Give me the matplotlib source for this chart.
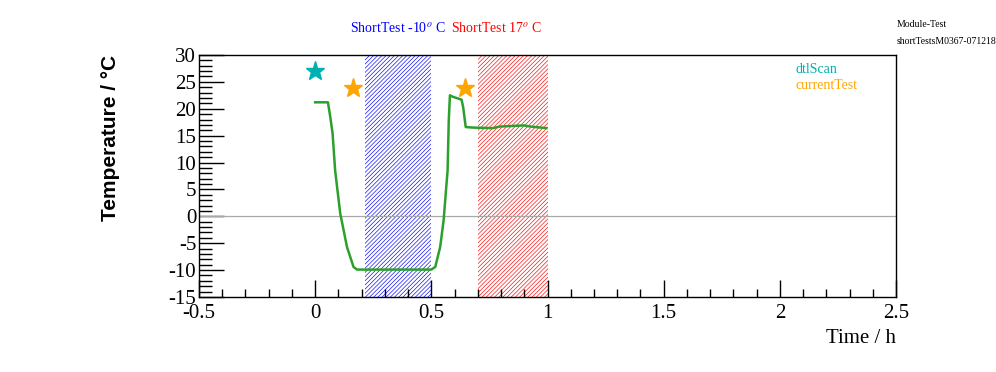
import matplotlib
matplotlib.use("Agg")
import matplotlib.pyplot as plt
from matplotlib.ticker import MultipleLocator, FuncFormatter

plt.rcParams["axes.unicode_minus"] = False
plt.rcParams["hatch.linewidth"] = 0.45

# temperature trace (time in h, temperature in deg C)
time_h = [0.0, 0.055, 0.065, 0.075, 0.086, 0.108, 0.137, 0.165, 0.18, 0.5, 0.517,
          0.538, 0.553, 0.563, 0.57, 0.575, 0.58, 0.594, 0.63, 0.637, 0.648, 0.68,
          0.765, 0.795, 0.9, 0.925, 0.995]
temp_c = [21.2, 21.2, 18.5, 15.4, 8.5, 0.5, -5.7, -9.4, -9.9, -9.9, -9.4,
          -5.7, -0.7, 4.8, 8.5, 17.8, 22.5, 22.2, 21.7, 20.3, 16.6, 16.5,
          16.4, 16.7, 16.9, 16.7, 16.4]

# test markers
dtl_t = [0.0]
dtl_T = [27.0]
cur_t = [0.164, 0.646]
cur_T = [23.8, 23.8]

# shaded test periods
short_cold = (0.215, 0.5)
short_warm = (0.70, 1.0)

serif = "Liberation Serif"

fig = plt.figure(figsize=(9.96, 3.72), dpi=100)
ax = fig.add_axes([0.1998, 0.2016, 0.6998, 0.6506])

ax.axvspan(*short_cold, facecolor="none", edgecolor="blue", hatch="////////", lw=0)
ax.axvspan(*short_warm, facecolor="none", edgecolor="red", hatch="////////", lw=0)

ax.axhline(0, color="#a8a8a8", lw=0.9)
ax.plot(time_h, temp_c, color="#2ca02c", lw=1.8)
ax.plot(dtl_t, dtl_T, ls="none", marker="*", ms=14, color="#00b0b0")
ax.plot(cur_t, cur_T, ls="none", marker="*", ms=14, color="orange")

ax.set_xlim(-0.5, 2.5)
ax.set_ylim(-15, 30)
ax.xaxis.set_major_locator(MultipleLocator(0.5))
ax.xaxis.set_minor_locator(MultipleLocator(0.1))
ax.yaxis.set_major_locator(MultipleLocator(5))
ax.yaxis.set_minor_locator(MultipleLocator(1))
fmt = FuncFormatter(lambda v, p: "%g" % v)
ax.xaxis.set_major_formatter(fmt)
ax.yaxis.set_major_formatter(fmt)
ax.tick_params(which="both", direction="in", top=False, right=False)
ax.tick_params(which="major", length=18, width=1)
ax.tick_params(which="minor", length=9, width=1)
ax.tick_params(axis="x", which="major", length=12, pad=5)
ax.tick_params(axis="x", which="minor", length=6)
ax.tick_params(axis="y", pad=2)
ax.tick_params(labelsize=15)
for lab in ax.get_xticklabels() + ax.get_yticklabels():
    lab.set_family(serif)
for s in ax.spines.values():
    s.set_linewidth(1)

ax.set_xlabel("Time / h", fontsize=15, family=serif, loc="right")
ax.set_ylabel("Temperature / °C", fontsize=15, family="Liberation Sans",
              fontweight="bold", loc="top", labelpad=35)

fig.text(0.799, 0.812, "dtlScan", color="#00b0b0", fontsize=10, family=serif, va="center")
fig.text(0.799, 0.771, "currentTest", color="orange", fontsize=10, family=serif, va="center")

fig.text(0.351, 0.925, "ShortTest -10$^{o}$ C", color="blue", fontsize=10,
         family=serif, ha="left", va="center", math_fontfamily="stix")
fig.text(0.453, 0.925, "ShortTest 17$^{o}$ C", color="red", fontsize=10,
         family=serif, ha="left", va="center", math_fontfamily="stix")

fig.text(0.9, 0.933, "Module-Test", fontsize=7, family=serif, va="center")
fig.text(0.9, 0.888, "shortTestsM0367-071218", fontsize=7, family=serif, va="center")

fig.savefig("out.png", dpi=100)
